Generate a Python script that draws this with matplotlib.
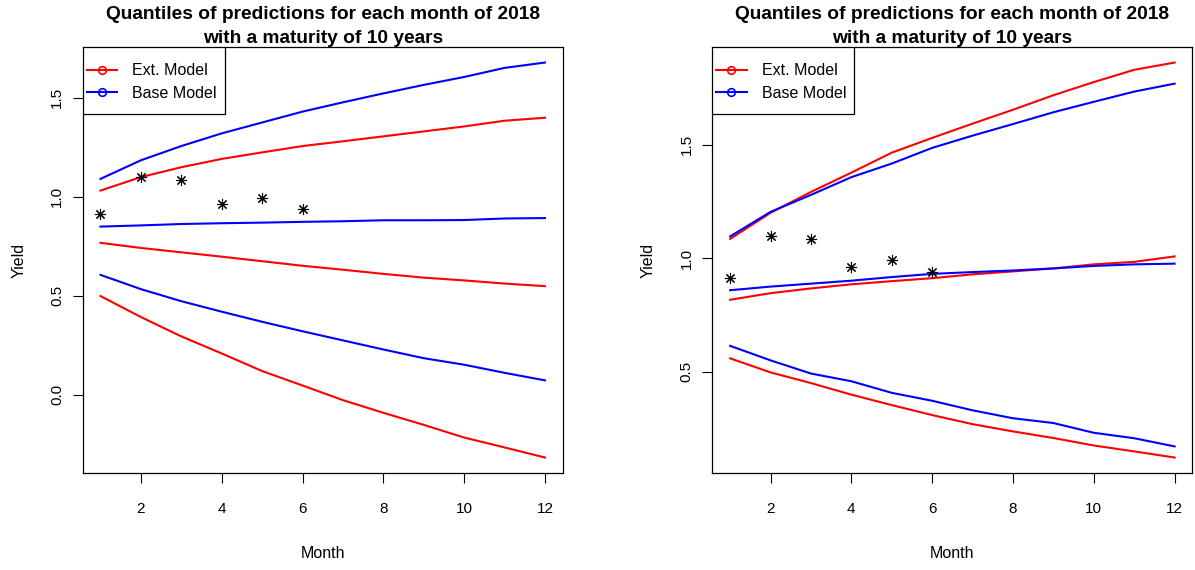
import numpy as np
import matplotlib
matplotlib.use("Agg")
import matplotlib.pyplot as plt
from matplotlib.lines import Line2D
from matplotlib.patches import Rectangle

plt.rcParams["font.family"] = ["Liberation Sans", "DejaVu Sans"]

months = np.arange(1, 13)

# observed yields, first half of 2018
obs_months = np.arange(1, 7)
observed = [0.915, 1.099, 1.086, 0.961, 0.993, 0.938]

# left: quantiles (upper, middle, lower) for both models
ext_left = {
    "hi": [1.031, 1.099, 1.149, 1.191, 1.224, 1.256, 1.280, 1.305, 1.330, 1.355, 1.384, 1.399],
    "mid": [0.767, 0.741, 0.719, 0.697, 0.674, 0.651, 0.631, 0.610, 0.591, 0.577, 0.561, 0.548],
    "lo": [0.498, 0.392, 0.294, 0.208, 0.119, 0.046, -0.028, -0.092, -0.153, -0.217, -0.267, -0.318],
}
base_left = {
    "hi": [1.090, 1.184, 1.256, 1.320, 1.375, 1.430, 1.477, 1.522, 1.565, 1.605, 1.651, 1.678],
    "mid": [0.849, 0.855, 0.862, 0.866, 0.869, 0.873, 0.876, 0.881, 0.881, 0.882, 0.890, 0.892],
    "lo": [0.605, 0.533, 0.472, 0.419, 0.368, 0.320, 0.274, 0.228, 0.184, 0.151, 0.110, 0.072],
}

# right: same quantiles from the second fit
ext_right = {
    "hi": [1.085, 1.200, 1.292, 1.377, 1.465, 1.530, 1.593, 1.654, 1.718, 1.776, 1.830, 1.862],
    "mid": [0.817, 0.846, 0.867, 0.885, 0.899, 0.912, 0.929, 0.942, 0.955, 0.973, 0.984, 1.008],
    "lo": [0.559, 0.497, 0.450, 0.399, 0.353, 0.309, 0.269, 0.237, 0.208, 0.175, 0.149, 0.122],
}
base_right = {
    "hi": [1.096, 1.204, 1.279, 1.357, 1.417, 1.486, 1.540, 1.591, 1.643, 1.689, 1.734, 1.769],
    "mid": [0.859, 0.875, 0.888, 0.901, 0.917, 0.931, 0.939, 0.946, 0.955, 0.966, 0.973, 0.976],
    "lo": [0.614, 0.550, 0.492, 0.458, 0.407, 0.372, 0.330, 0.295, 0.274, 0.231, 0.207, 0.171],
}

title = "Quantiles of predictions for each month of 2018\nwith a maturity of 10 years"
x_ticks = [2, 4, 6, 8, 10, 12]


def r_limits(values):
    # R pads the data range by 4% on each side
    lo, hi = min(values), max(values)
    pad = 0.04 * (hi - lo)
    return lo - pad, hi + pad


def draw_panel(ax, ext, base, y_ticks):
    for key in ["hi", "mid", "lo"]:
        ax.plot(months, ext[key], color="red", lw=1.5)
        ax.plot(months, base[key], color="blue", lw=1.5)
    ax.plot(obs_months, observed, linestyle="none", marker=(8, 2, 0),
            markersize=8, color="black", markeredgewidth=0.8)

    all_vals = [v for d in (ext, base) for k in d for v in d[k]] + observed
    ax.set_ylim(*r_limits(all_vals))
    ax.set_xlim(*r_limits(list(months)))

    ax.set_xticks(x_ticks)
    ax.set_yticks(y_ticks)
    ax.set_yticklabels([f"{t:.1f}" for t in y_ticks], rotation=90, va="center")
    ax.tick_params(direction="out", length=7.5, width=0.8, labelsize=11)
    ax.tick_params(axis="x", pad=13)
    ax.tick_params(axis="y", pad=6)
    for s in ax.spines.values():
        s.set_linewidth(0.9)

    ax.set_xlabel("Month", fontsize=11.5, labelpad=22)
    ax.set_ylabel("Yield", fontsize=11.5, labelpad=17)
    ax.set_title(title, fontsize=13.8, fontweight="bold", pad=2, linespacing=1.5)

    # boxed legend in the top-left corner, R style
    frame = Rectangle((0, 1 - 0.1585), 0.296, 0.1585, transform=ax.transAxes,
                      facecolor="white", edgecolor="black", lw=0.9, zorder=4)
    ax.add_patch(frame)
    handles = [
        Line2D([], [], color="red", lw=1.5, marker="o", markersize=5.5,
               markerfacecolor="none", markeredgewidth=1.2),
        Line2D([], [], color="blue", lw=1.5, marker="o", markersize=5.5,
               markerfacecolor="none", markeredgewidth=1.2),
    ]
    leg = ax.legend(handles, ["Ext. Model", "Base Model"], loc="upper left",
                    bbox_to_anchor=(0.0083, 0.961), fontsize=11.5,
                    frameon=False, borderaxespad=0, borderpad=0,
                    handlelength=1.9, handletextpad=0.95, labelspacing=0.45)
    leg.set_zorder(5)


fig = plt.figure(figsize=(11.95, 5.7), dpi=100)
ax1 = fig.add_axes([0.0692, 0.1696, 0.4017, 0.7484])
ax2 = fig.add_axes([0.5961, 0.1696, 0.4017, 0.7484])

draw_panel(ax1, ext_left, base_left, [0.0, 0.5, 1.0, 1.5])
draw_panel(ax2, ext_right, base_right, [0.5, 1.0, 1.5])

fig.savefig("out.png", dpi=100)
